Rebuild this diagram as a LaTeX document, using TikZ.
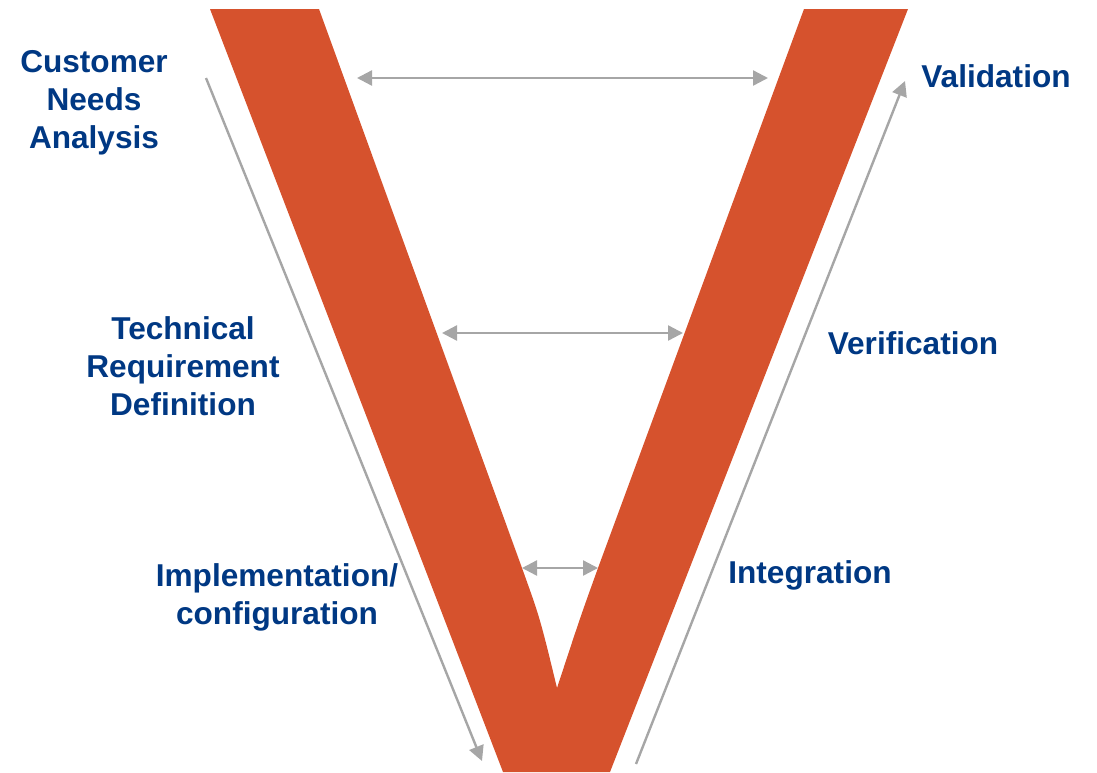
\documentclass[tikz,border=0pt]{standalone}
\usepackage{fontspec}
\setmainfont{Liberation Sans}
\usetikzlibrary{arrows.meta}
\definecolor{vorange}{RGB}{214,82,45}
\definecolor{vblue}{RGB}{0,56,131}
\definecolor{vgray}{RGB}{166,166,166}
\begin{document}
\begin{tikzpicture}[x=1pt,y=-1pt,
  lbl/.style={font=\fontsize{31.6}{38}\selectfont\bfseries, text=vblue, align=center, anchor=base, inner sep=0pt},
  garrow/.style={draw=vgray, line width=2.4pt, -{Triangle[length=15pt,width=15pt]}},
  gdarrow/.style={draw=vgray, line width=2.4pt, {Triangle[length=15pt,width=15pt]}-{Triangle[length=15pt,width=15pt]}}]
\useasboundingbox (0,0) rectangle (1097,772);
% V shape
\fill[vorange] (210,9) -- (319,9) -- (522,568) .. controls (540,618) .. (557,688)
  .. controls (580,618) .. (598,568) -- (804,9) -- (908,9) -- (610,772) -- (503,772) -- cycle;
% coordinates
\coordinate (l1) at (206,78);
\coordinate (l2) at (482,761);
\coordinate (r1) at (636,764);
\coordinate (r2) at (905,81);
\coordinate (t1) at (357,78);
\coordinate (t2) at (768,78);
\coordinate (m1) at (442,333);
\coordinate (m2) at (683,333);
\coordinate (b1) at (522,568);
\coordinate (b2) at (598,568);
\draw[garrow] (l1) -- (l2);
\draw[garrow] (r1) -- (r2);
\draw[gdarrow] (t1) -- (t2);
\draw[gdarrow] (m1) -- (m2);
\draw[gdarrow] (b1) -- (b2);
% labels
\node[lbl] (cna) at (94,148.5) {Customer\\Needs\\Analysis};
\node[lbl] (trd) at (183,415) {Technical\\Requirement\\Definition};
\node[lbl] (imp) at (277,624.5) {Implementation/\\configuration};
\node[lbl] (val) at (996,87) {Validation};
\node[lbl] (ver) at (913,354) {Verification};
\node[lbl] (int) at (810,583) {Integration};
\end{tikzpicture}
\end{document}
